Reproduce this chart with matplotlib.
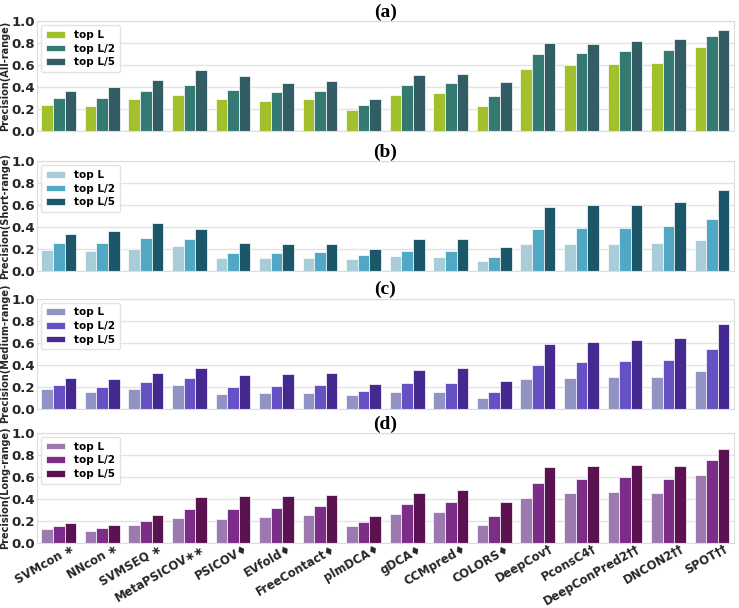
import numpy as np
import matplotlib
matplotlib.use('Agg')
import matplotlib.pyplot as plt
import matplotlib.transforms as mtrans

methods = ['SVMcon \u2217', 'NNcon \u2217', 'SVMSEQ \u2217', 'MetaPSICOV\u2217\u2217', 'PSICOV\u2666',
           'EVfold\u2666', 'FreeContact\u2666', 'plmDCA\u2666', 'gDCA\u2666', 'CCMpred\u2666',
           'COLORS\u2666', 'DeepCov\u2020', 'PconsC4\u2020', 'DeepConPred2\u2020\u2020',
           'DNCON2\u2020\u2020', 'SPOT\u2020\u2020']
series_names = ['top L', 'top L/2', 'top L/5']

'~~~~~ (a) all-range ~~~~~'
all_L = [0.24, 0.23, 0.29, 0.33, 0.29, 0.28, 0.29, 0.195, 0.33, 0.345, 0.23, 0.57, 0.60, 0.61, 0.62, 0.77]
all_L2 = [0.30, 0.30, 0.365, 0.42, 0.38, 0.36, 0.37, 0.24, 0.42, 0.435, 0.325, 0.70, 0.715, 0.73, 0.74, 0.865]
all_L5 = [0.365, 0.40, 0.465, 0.555, 0.50, 0.44, 0.455, 0.29, 0.51, 0.525, 0.445, 0.80, 0.795, 0.82, 0.835, 0.92]

'~~~~~ (b) short-range ~~~~~'
short_L = [0.196, 0.18, 0.20, 0.233, 0.118, 0.12, 0.124, 0.115, 0.136, 0.133, 0.09, 0.245, 0.245, 0.25, 0.26, 0.287]
short_L2 = [0.257, 0.257, 0.30, 0.296, 0.166, 0.163, 0.17, 0.148, 0.187, 0.187, 0.13, 0.387, 0.393, 0.396, 0.414, 0.474]
short_L5 = [0.338, 0.362, 0.435, 0.38, 0.257, 0.245, 0.25, 0.20, 0.29, 0.293, 0.22, 0.586, 0.598, 0.598, 0.63, 0.737]

'~~~~~ (c) medium-range ~~~~~'
med_L = [0.175, 0.148, 0.178, 0.215, 0.133, 0.139, 0.145, 0.12, 0.154, 0.154, 0.094, 0.266, 0.278, 0.284, 0.29, 0.341]
med_L2 = [0.218, 0.196, 0.242, 0.278, 0.193, 0.205, 0.215, 0.16, 0.23, 0.236, 0.148, 0.40, 0.423, 0.435, 0.444, 0.538]
med_L5 = [0.278, 0.269, 0.323, 0.366, 0.308, 0.314, 0.326, 0.22, 0.353, 0.369, 0.25, 0.583, 0.604, 0.622, 0.637, 0.764]

'~~~~~ (d) long-range ~~~~~'
long_L = [0.13, 0.109, 0.16, 0.23, 0.218, 0.236, 0.25, 0.151, 0.263, 0.278, 0.163, 0.405, 0.456, 0.465, 0.456, 0.613]
long_L2 = [0.157, 0.136, 0.202, 0.308, 0.308, 0.32, 0.338, 0.193, 0.353, 0.375, 0.248, 0.544, 0.583, 0.598, 0.583, 0.758]
long_L5 = [0.184, 0.166, 0.257, 0.414, 0.429, 0.423, 0.44, 0.245, 0.456, 0.477, 0.375, 0.692, 0.698, 0.71, 0.70, 0.85]

panels = [
    ('(a)', 'Precision(All-range)', [all_L, all_L2, all_L5], ['#a2c02c', '#357a72', '#335d64']),
    ('(b)', 'Precision(Short-range)', [short_L, short_L2, short_L5], ['#a9cdd8', '#50a8c4', '#1b5769']),
    ('(c)', 'Precision(Medium-range)', [med_L, med_L2, med_L5], ['#9193c2', '#6551c4', '#432990']),
    ('(d)', 'Precision(Long-range)', [long_L, long_L2, long_L5], ['#9c79ae', '#7c2d88', '#5a1350']),
]

# axes bottoms in figure fraction
bottoms = [0.784, 0.554, 0.328, 0.107]

fig = plt.figure(figsize=(7.39, 6.08), dpi=100)
x = np.arange(len(methods))
w = 0.8 / 3

for i, (tag, ylab, vals, cols) in enumerate(panels):
    ax = fig.add_axes([0.050, bottoms[i], 0.943, 0.181])
    ax.set_axisbelow(True)
    ax.grid(axis='y', color='#e3e3e3', linewidth=1)
    for j in range(3):
        ax.bar(x + (j - 1) * w, vals[j], width=w, color=cols[j], edgecolor='white',
               linewidth=0.5, label=series_names[j])
    ax.set_xlim(-0.5, len(methods) - 0.5)
    ax.set_ylim(0, 1.0)
    ax.set_yticks([0.0, 0.2, 0.4, 0.6, 0.8, 1.0])
    ax.set_yticklabels(['0.0', '0.2', '0.4', '0.6', '0.8', '1.0'], fontsize=9.5, fontweight='bold', color='#262626')
    ax.tick_params(axis='both', length=0, pad=1.5)
    for s in ax.spines.values():
        s.set_color('#dddddd')
        s.set_linewidth(0.8)
    ax.set_ylabel(ylab, fontsize=7, fontweight='bold', color='#262626')
    ax.yaxis.set_label_coords(-0.0385, 0.5)
    ax.set_title(tag, fontsize=14, fontweight='bold', family='Liberation Serif', pad=3)
    leg = ax.legend(loc='upper left', prop={'size': 7.5, 'weight': 'bold'}, frameon=True,
                    handlelength=1.8, handleheight=0.6, borderpad=0.45, labelspacing=0.35,
                    handletextpad=0.9, borderaxespad=0.4)
    leg.get_frame().set_edgecolor('#dddddd')
    ax.set_xticks(x)
    if i < 3:
        ax.set_xticklabels([])
    else:
        ax.set_xticklabels(methods, rotation=30, ha='right', rotation_mode='anchor',
                           fontsize=8.4, fontweight='bold', color='#262626')
        shift = mtrans.ScaledTranslation(8 / 72, 2 / 72, fig.dpi_scale_trans)
        for lab in ax.get_xticklabels():
            lab.set_transform(lab.get_transform() + shift)

fig.savefig('out.png', dpi=100)
